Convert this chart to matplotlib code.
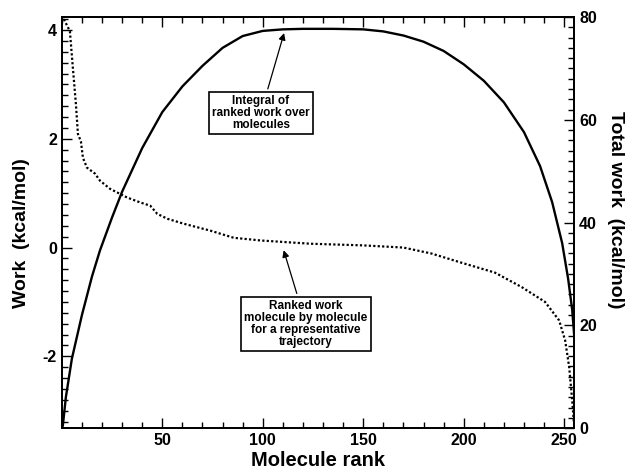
import matplotlib
matplotlib.use("Agg")
import matplotlib.pyplot as plt
from matplotlib.ticker import MultipleLocator

plt.rcParams['font.family'] = ['Liberation Sans', 'DejaVu Sans']
plt.rcParams['font.weight'] = 'bold'
plt.rcParams['axes.unicode_minus'] = False

# ranked work, molecule by molecule (left axis, kcal/mol)
work_rank = [1, 4, 5.5, 7, 8, 9.5, 10.5, 12.5, 16.5, 19, 24, 32.5, 39, 44, 47.5,
             52.5, 60.5, 74, 85.5, 99, 124, 150, 170, 184, 199, 215.5, 229,
             240.5, 247.5, 250.5, 252.5, 254, 255]
work = [4.2, 3.98, 3.3, 2.64, 2.09, 1.95, 1.65, 1.47, 1.36, 1.23, 1.08, 0.92,
        0.83, 0.77, 0.62, 0.53, 0.44, 0.31, 0.18, 0.13, 0.07, 0.04, 0.0, -0.11,
        -0.28, -0.46, -0.73, -1.0, -1.34, -1.71, -2.2, -2.81, -3.3]

# integral of ranked work over molecules (right axis, kcal/mol)
total_rank = [0.5, 2, 5, 10, 15, 19, 25, 30, 40, 50, 60, 70, 80, 90, 100, 110,
              120, 135, 150, 160, 170, 180, 190, 200, 210, 220, 230, 238, 244,
              249, 252, 254, 255.5]
total_work = [0.5, 6, 13.5, 22, 29.5, 34.6, 41, 46, 54.5, 61.5, 66.5, 70.5,
              74, 76.3, 77.3, 77.6, 77.7, 77.7, 77.6, 77.2, 76.4, 75.2, 73.4,
              70.8, 67.6, 63.4, 57.6, 51, 44, 36, 29, 23, 15.5]

fig = plt.figure(figsize=(6.31, 4.73), dpi=100)
ax = fig.add_axes([0.098, 0.095, 0.812, 0.869])
ax2 = ax.twinx()

ax.plot(work_rank, work, color='black', linewidth=1.6, linestyle=(0, (1, 1)))
ax2.plot(total_rank, total_work, color='black', linewidth=1.7)

ax.set_xlim(0, 255)
ax.set_ylim(-3.32, 4.24)
ax2.set_ylim(0, 80)

ax.xaxis.set_major_locator(MultipleLocator(50))
ax.xaxis.set_minor_locator(MultipleLocator(10))
ax.yaxis.set_major_locator(MultipleLocator(2))
ax.yaxis.set_minor_locator(MultipleLocator(0.2))
ax2.yaxis.set_major_locator(MultipleLocator(20))
ax2.yaxis.set_minor_locator(MultipleLocator(2))

ax.tick_params(which='both', direction='in', top=True, bottom=True, left=True,
               right=False, labelsize=11.5, width=1)
ax.tick_params(which='major', length=7)
ax.tick_params(which='minor', length=4)
ax2.tick_params(which='both', direction='in', labelsize=11.5, width=1)
ax2.tick_params(which='major', length=7)
ax2.tick_params(which='minor', length=4)
ax.set_xticks([50, 100, 150, 200, 250])

for a in (ax, ax2):
    for s in a.spines.values():
        s.set_linewidth(1.3)

ax.set_xlabel('Molecule rank', fontsize=14.5, fontweight='bold', labelpad=2)
ax.set_ylabel('Work  (kcal/mol)', fontsize=14, fontweight='bold')
ax.yaxis.set_label_coords(-0.062, 0.474)
ax2.set_ylabel('Total work  (kcal/mol)', fontsize=14, fontweight='bold',
               rotation=270, labelpad=20)
ax2.yaxis.set_label_coords(1.097, 0.53)

box = dict(boxstyle='square,pad=0.25', facecolor='white', edgecolor='black',
           linewidth=1.2)
arrow = dict(arrowstyle='-|>', color='black', linewidth=0.9, mutation_scale=10)

ax2.annotate('Integral of\nranked work over\nmolecules', xy=(111, 77.4),
             xytext=(99, 61.3), ha='center', va='center', fontsize=8.5,
             fontweight='bold', linespacing=1.0, bbox=box, arrowprops=arrow)
ax.annotate('Ranked work\nmolecule by molecule\nfor a representative\ntrajectory',
            xy=(110, 0.0), xytext=(121.5, -1.4), ha='center', va='center',
            fontsize=8.5, fontweight='bold', linespacing=1.0, bbox=box,
            arrowprops=arrow)

fig.savefig('out.png', dpi=100)
